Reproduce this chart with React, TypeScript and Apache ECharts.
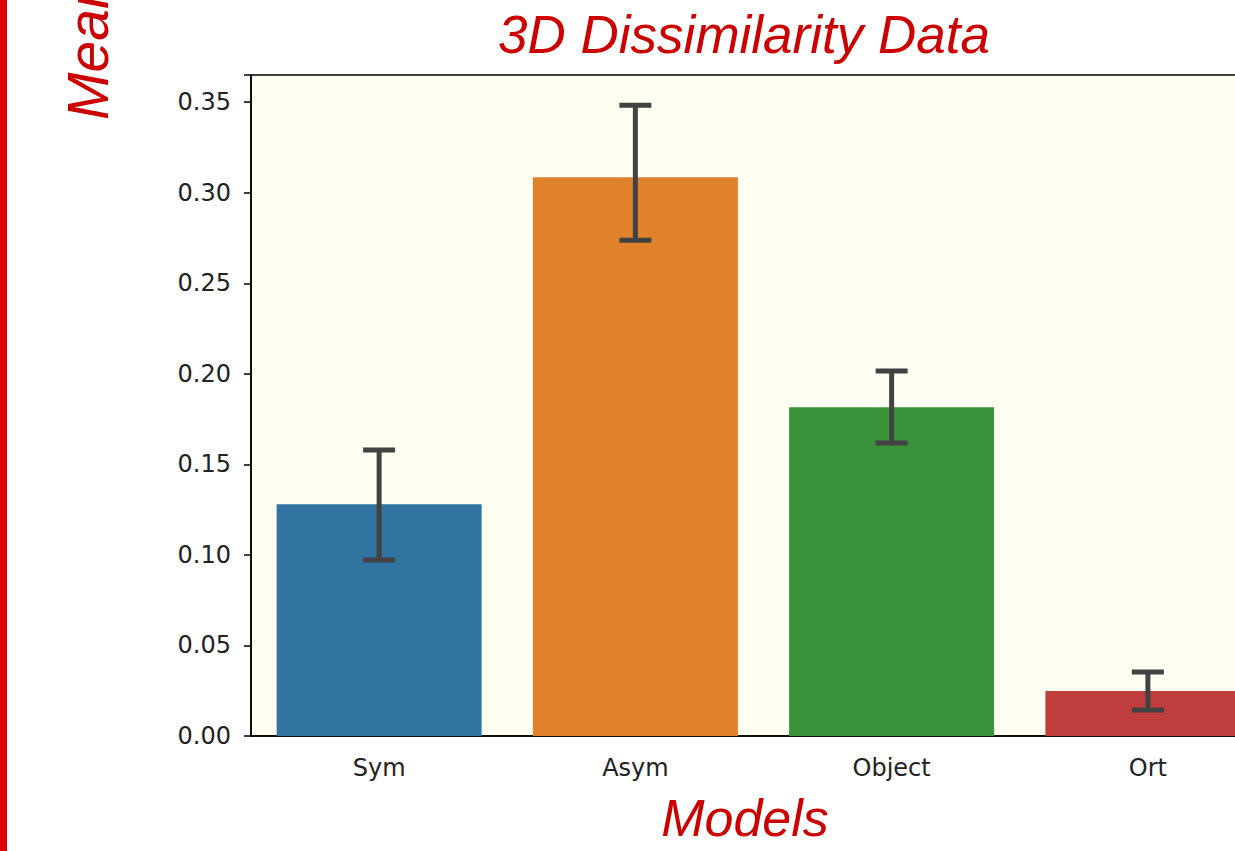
import React, { useEffect, useRef } from "react";
import * as echarts from "echarts";

const categories = ["Sym", "Asym", "Object", "Ort"];
const means = [0.128, 0.3085, 0.1815, 0.0248];
const errLow = [0.0972, 0.2738, 0.1618, 0.0144];
const errHigh = [0.1579, 0.3483, 0.2015, 0.0353];
const barColors = ["#3274a1", "#e1812c", "#3a923a", "#c03d3e"];
const yTicks = [0, 0.05, 0.1, 0.15, 0.2, 0.25, 0.3, 0.35];

export default function App() {
  const ref = useRef<HTMLDivElement>(null);
  useEffect(() => {
    if (!ref.current) return;
    const chart = echarts.init(ref.current, null, { renderer: "svg" });
    const red = "#cc0000";
    chart.setOption({
      animation: false,
      grid: {
        left: 251,
        top: 75,
        width: 1025,
        height: 661,
        show: true,
        backgroundColor: "#fefff0",
        borderColor: "#000",
        borderWidth: 1.5,
      },
      xAxis: {
        type: "category",
        data: categories,
        axisLine: { lineStyle: { color: "#000", width: 1.5 } },
        axisTick: { alignWithLabel: true, length: 7, lineStyle: { color: "#000", width: 1.5 } },
        axisLabel: { fontFamily: "DejaVu Sans", fontSize: 24, color: "#222", margin: 20 },
        splitLine: { show: false },
      },
      yAxis: {
        type: "value",
        min: 0,
        max: 0.365,
        interval: 0.05,
        axisLine: { show: true, lineStyle: { color: "#000", width: 1.5 } },
        axisTick: { show: true, length: 7, lineStyle: { color: "#000", width: 1.5 } },
        axisLabel: {
          fontFamily: "DejaVu Sans",
          fontSize: 24,
          color: "#222",
          margin: 20,
          formatter: (v: number) => (yTicks.some((t) => Math.abs(t - v) < 1e-9) ? v.toFixed(2) : ""),
        },
        splitLine: { show: false },
      },
      series: [
        {
          type: "bar",
          barWidth: "80%",
          data: means.map((v, i) => ({ value: v, itemStyle: { color: barColors[i] } })),
        },
        {
          type: "custom",
          data: categories.map((_, i) => [i, errLow[i], errHigh[i]]),
          renderItem: (params: any, api: any) => {
            const x = api.value(0);
            const lo = api.coord([x, api.value(1)]);
            const hi = api.coord([x, api.value(2)]);
            const half = 16;
            const style = { stroke: "#424242", lineWidth: 5 };
            return {
              type: "group",
              children: [
                { type: "line", shape: { x1: lo[0], y1: lo[1], x2: hi[0], y2: hi[1] }, style },
                { type: "line", shape: { x1: lo[0] - half, y1: lo[1], x2: lo[0] + half, y2: lo[1] }, style },
                { type: "line", shape: { x1: hi[0] - half, y1: hi[1], x2: hi[0] + half, y2: hi[1] }, style },
              ],
            };
          },
          z: 5,
        },
      ],
      graphic: [
        { type: "rect", left: 0, top: 0, shape: { x: 0, y: 0, width: 7, height: 851 }, style: { fill: "#e00000" } },
        {
          type: "text",
          x: 744,
          y: 8,
          style: {
            text: "3D Dissimilarity Data",
            font: "italic 53px 'Liberation Sans', Arial, sans-serif",
            fill: red,
            textAlign: "center",
            textVerticalAlign: "top",
          },
        },
        {
          type: "text",
          x: 745,
          y: 796,
          style: {
            text: "Models",
            font: "italic 52px 'Liberation Sans', Arial, sans-serif",
            lineHeight: 44,
            fill: red,
            textAlign: "center",
            textVerticalAlign: "top",
          },
        },
        {
          type: "text",
          x: 116,
          y: 120,
          rotation: Math.PI / 2,
          style: {
            text: "Mean Dissimilarity",
            font: "italic 57px 'Liberation Sans', Arial, sans-serif",
            fill: red,
            textAlign: "left",
            textVerticalAlign: "bottom",
          },
        },
      ],
    });
    return () => chart.dispose();
  }, []);
  return (
    <div style={{ position: "absolute", left: 0, top: 0, width: 1235, height: 851, overflow: "hidden", background: "#fff" }}>
      <div ref={ref} style={{ width: 1320, height: 851 }} />
    </div>
  );
}
